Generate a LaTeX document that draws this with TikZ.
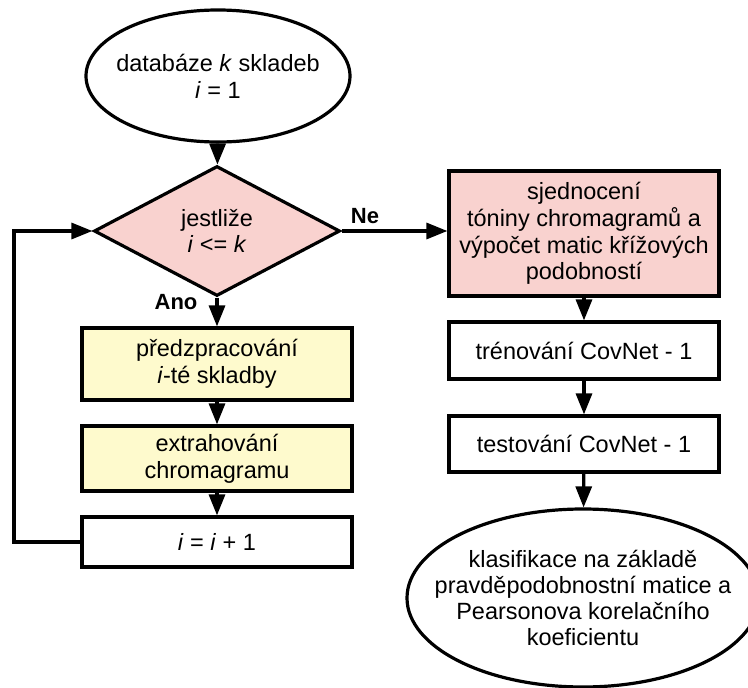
\documentclass[tikz,border=0pt]{standalone}
\usepackage{fontspec}
\setmainfont{Liberation Sans}
\usetikzlibrary{shapes.geometric,arrows.meta}
\definecolor{pinkfill}{HTML}{F9D2CF}
\definecolor{yellowfill}{HTML}{FEFACD}
\tikzset{
  txt/.style={align=center, inner sep=0pt, font=\fontsize{23.5}{26.7}\selectfont},
  base/.style={txt, draw=black, line width=3.2pt},
  procbox/.style={base, rectangle, minimum width=270pt},
  termnode/.style={draw=black, line width=3.2pt, ellipse, inner sep=0pt},
  decnode/.style={base, diamond, fill=pinkfill},
  flow/.style={line width=3.2pt, -{Triangle[length=21pt,width=16pt]}},
  lbl/.style={font=\fontsize{22}{26}\selectfont\bfseries}
}
\begin{document}
\begin{tikzpicture}[x=1pt,y=-1pt]
\useasboundingbox (0,0) rectangle (748,688);
% left column: loop over the pieces
\node[termnode, minimum width=264pt, minimum height=132pt] (start) at (218,76) {};
\node[txt] (starttext) at (start.center)
  {databáze \textit{k} skladeb\\\textit{i} = 1};
\node[decnode, minimum width=246pt, minimum height=130pt] (dec) at (217,231)
  {jestliže\\\textit{i} <= \textit{k}};
\node[procbox, fill=yellowfill, minimum height=72pt] (prep) at (217,364)
  {předzpracování\\\textit{i}-té skladby};
\node[procbox, fill=yellowfill, minimum height=65pt] (chroma) at (217,458.5)
  {extrahování\\chromagramu};
\node[procbox, fill=white, minimum height=50pt] (inc) at (217,542)
  {\textit{i} = \textit{i} + 1};
% right column: training and evaluation
\node[procbox, fill=pinkfill, minimum height=125pt] (unify) at (584,233.5)
  {sjednocení\\tóniny chromagramů a\\výpočet matic křížových\\podobností};
\node[procbox, fill=white, minimum height=57pt] (train) at (584,350.5)
  {trénování CovNet - 1};
\node[procbox, fill=white, minimum height=56pt] (test) at (584,444)
  {testování CovNet - 1};
\node[termnode, minimum width=352pt, minimum height=178pt] (class) at (583,598) {};
\node[txt, font=\fontsize{23.5}{26}\selectfont] (classtext) at (class.center)
  {klasifikace na základě\\pravděpodobnostní matice a\\Pearsonova korelačního\\koeficientu};
% connectors
\draw[flow] (start) -- (dec);
\draw[flow] (dec) -- (prep);
\draw[flow] (prep) -- (chroma);
\draw[flow] (chroma) -- (inc);
\coordinate (loopbottom) at (14,542);
\coordinate (looptop) at (14,231);
\draw[flow] (inc.west) -- (loopbottom) -- (looptop) -- (dec.west);
\draw[flow] (dec.east) -- (unify.west |- dec.east);
\draw[flow] (unify) -- (train);
\draw[flow] (train) -- (test);
\draw[flow] (test) -- (class);
% branch labels
\node[lbl, anchor=base] (yes) at (176,309) {Ano};
\node[lbl, anchor=base] (no) at (365,223) {Ne};
\end{tikzpicture}
\end{document}
